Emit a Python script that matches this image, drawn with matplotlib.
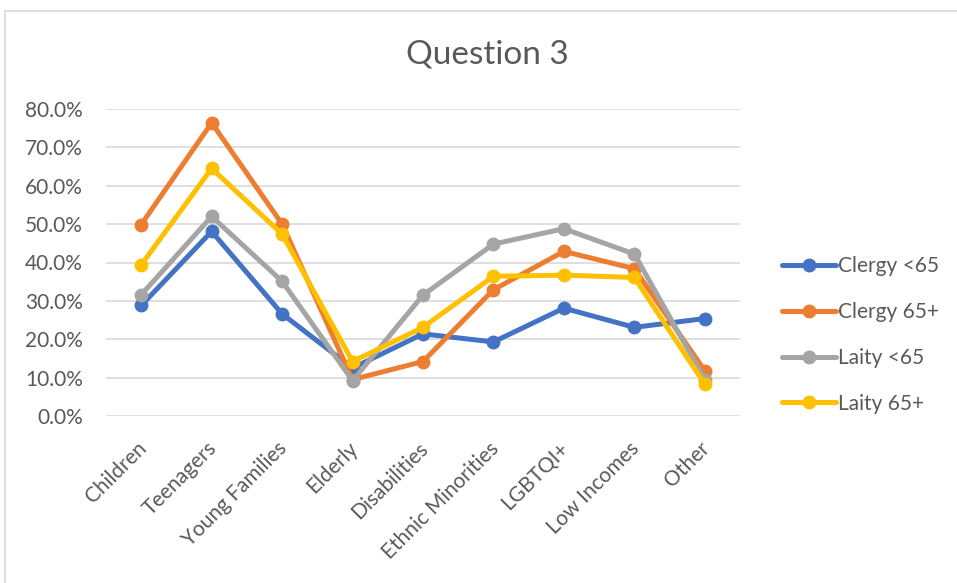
import matplotlib
matplotlib.use("Agg")
import matplotlib.pyplot as plt
from matplotlib.patches import Rectangle
from matplotlib.ticker import PercentFormatter, MultipleLocator
from matplotlib.transforms import ScaledTranslation

categories = ["Children", "Teenagers", "Young Families", "Elderly", "Disabilities",
              "Ethnic Minorities", "LGBTQI+", "Low Incomes", "Other"]

clergy_under65 = [0.288, 0.481, 0.266, 0.125, 0.214, 0.193, 0.281, 0.231, 0.254]
clergy_65plus = [0.499, 0.764, 0.500, 0.095, 0.142, 0.329, 0.429, 0.384, 0.118]
laity_under65 = [0.316, 0.520, 0.351, 0.092, 0.315, 0.448, 0.488, 0.422, 0.095]
laity_65plus = [0.394, 0.645, 0.474, 0.142, 0.231, 0.364, 0.367, 0.361, 0.083]

series_names = ["Clergy <65", "Clergy 65+", "Laity <65", "Laity 65+"]
series_values = [clergy_under65, clergy_65plus, laity_under65, laity_65plus]
series_colors = ["#4472C4", "#ED7D31", "#A5A5A5", "#FFC000"]

text_color = "#595959"
grid_color = "#D9D9D9"
font = "Lato"
label_size = 15

fig = plt.figure(figsize=(9.57, 5.83), dpi=100)
fig.patch.set_facecolor("white")

# chart frame
fig.patches.append(Rectangle((5 / 957, -0.05), 1.2, 1 - 11 / 583 + 0.05,
                             transform=fig.transFigure, fill=False,
                             edgecolor=grid_color, linewidth=1.2))

ax = fig.add_axes([106 / 957, 1 - 416 / 583, (740 - 106) / 957, (416 - 109) / 583])
x = list(range(len(categories)))
for name, vals, col in zip(series_names, series_values, series_colors):
    ax.plot(x, vals, color=col, linewidth=3.6, marker="o", markersize=9,
            label=name, solid_capstyle="round", solid_joinstyle="round", zorder=3)

ax.set_xlim(-0.5, len(categories) - 0.5)
ax.set_ylim(0, 0.8)
ax.yaxis.set_major_locator(MultipleLocator(0.1))
ax.yaxis.set_major_formatter(PercentFormatter(1.0, decimals=1))
ax.grid(axis="y", color=grid_color, linewidth=1.2)
ax.set_axisbelow(True)
for s in ax.spines.values():
    s.set_visible(False)
ax.tick_params(axis="both", length=0, colors=text_color)
ax.tick_params(axis="y", pad=16.5)
for lbl in ax.get_yticklabels():
    lbl.set_fontfamily(font)
    lbl.set_fontsize(label_size)

ax.set_xticks(x)
ax.set_xticklabels(categories, rotation=45, ha="right", va="center",
                   rotation_mode="anchor", fontfamily=font, fontsize=label_size,
                   color=text_color)
ax.tick_params(axis="x", pad=21)
shift = ScaledTranslation(2 / 100, 0, fig.dpi_scale_trans)
for lbl in ax.get_xticklabels():
    lbl.set_transform(lbl.get_transform() + shift)

fig.text(487 / 957, 1 - 55 / 583, "Question 3", ha="center", va="center",
         fontsize=24, fontfamily=font, color=text_color)

leg = fig.legend(loc="center left", bbox_to_anchor=(763 / 957, 1 - 335 / 583),
                 frameon=False, handlelength=2.6, handletextpad=0.1,
                 labelspacing=1.24, prop={"family": font, "size": label_size})
for t in leg.get_texts():
    t.set_color(text_color)

fig.savefig("out.png", dpi=100, facecolor="white")
